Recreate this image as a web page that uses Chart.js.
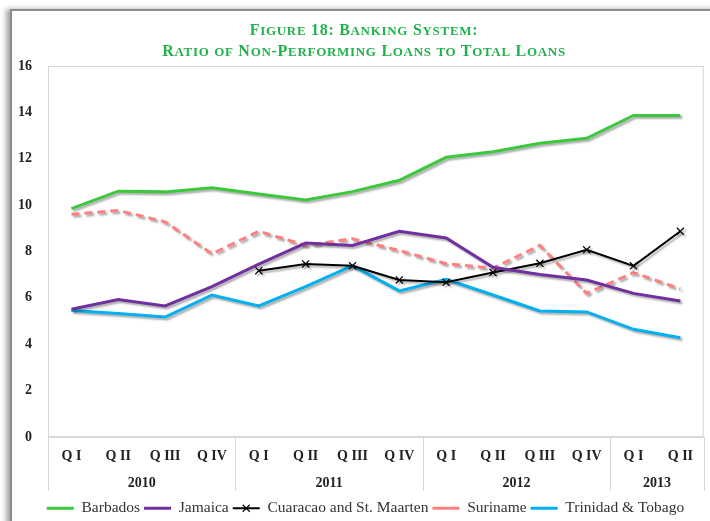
<!DOCTYPE html>
<html>
<head>
<meta charset="utf-8">
<script src="https://cdn.jsdelivr.net/npm/chart.js@4/dist/chart.umd.min.js"></script>
<style>
  html, body { margin: 0; padding: 0; background: #fff; }
  #wrap { position: relative; width: 710px; height: 521px; overflow: hidden; }
  #frame { position: absolute; left: 10px; top: 9px; width: 720px; height: 540px;
           border-top: 2px solid #8c8c8c; border-left: 2px solid #8c8c8c;
           box-shadow: -4px 0 5px rgba(0,0,0,0.35); background: #fff; }
  canvas { position: absolute; left: 0; top: 0; }
  #title { position: absolute; left: 0; top: 20px; width: 728px; text-align: center;
           font-family: 'Liberation Serif', 'Times New Roman', serif; font-size: 16px; font-weight: bold;
           line-height: 19.5px; color: #22b14c; z-index: 2; letter-spacing: 0.7px; white-space: nowrap; }
  #title .sc { font-size: 13px; text-transform: uppercase; }
</style>
</head>
<body>
<div id="wrap">
  <div id="frame"></div>
  <canvas id="c" width="710" height="521"></canvas>
  <div id="title"></div>
</div>
<script>
const titleLines = ['Figure 18: Banking System:', 'Ratio of Non-Performing Loans to Total Loans'];
const quarters = ['Q I','Q II','Q III','Q IV','Q I','Q II','Q III','Q IV','Q I','Q II','Q III','Q IV','Q I','Q II'];
const years = ['2010','2011','2012','2013'];
const yearCounts = [4, 4, 4, 2];
const yTicks = [0, 2, 4, 6, 8, 10, 12, 14, 16];

const barbados = [9.85, 10.6, 10.57, 10.75, 10.48, 10.22, 10.58, 11.07, 12.06, 12.3, 12.67, 12.88, 13.87, 13.87];
const jamaica  = [5.51, 5.93, 5.65, 6.48, 7.45, 8.36, 8.26, 8.87, 8.58, 7.32, 7.01, 6.77, 6.19, 5.86];
const curacao  = [null, null, null, null, 7.17, 7.46, 7.38, 6.77, 6.67, 7.09, 7.49, 8.07, 7.38, 8.87];
const suriname = [9.6, 9.77, 9.28, 7.9, 8.87, 8.26, 8.55, 8.04, 7.47, 7.28, 8.26, 6.19, 7.09, 6.38];
const trinidad = [5.45, 5.32, 5.17, 6.12, 5.65, 6.48, 7.39, 6.3, 6.8, 6.12, 5.43, 5.39, 4.64, 4.28];

// small-caps title built as real text
(function buildTitle() {
  const t = document.getElementById('title');
  titleLines.forEach(line => {
    const div = document.createElement('div');
    let buf = '', small = null;
    const flush = () => {
      if (!buf) return;
      if (small) { const s = document.createElement('span'); s.className = 'sc'; s.textContent = buf; div.appendChild(s); }
      else div.appendChild(document.createTextNode(buf));
      buf = '';
    };
    for (const ch of line) {
      const isSmall = ch !== ch.toUpperCase();
      if (small !== null && isSmall !== small) flush();
      small = isSmall; buf += ch;
    }
    flush();
    t.appendChild(div);
  });
})();

// year group centres and boundaries (in category index units)
const yearCenters = [];
const yearBounds = [-0.5];
let acc = 0;
yearCounts.forEach(n => { yearCenters.push(acc + (n - 1) / 2); acc += n; yearBounds.push(acc - 0.5); });

const FONT = "'Liberation Serif', 'Times New Roman', serif";
const LEGEND_SHIFT = 11;

const decor = {
  id: 'decor',
  afterLayout(chart) {
    const lg = chart.legend;
    if (!lg) return;
    lg.left += LEGEND_SHIFT;
    lg.right += LEGEND_SHIFT;
    (lg.legendHitBoxes || []).forEach(h => { h.left += LEGEND_SHIFT; });
  },
  beforeDatasetsDraw(chart) {
    const ctx = chart.ctx, a = chart.chartArea;
    ctx.save();
    ctx.strokeStyle = '#d6d6d6';
    ctx.lineWidth = 1;
    ctx.strokeRect(a.left + 0.5, a.top + 0.5, a.right - a.left - 1, a.bottom - a.top);
    ctx.restore();
    ctx.save();
    ctx.shadowColor = 'rgba(0,0,0,0.33)';
    ctx.shadowOffsetX = 2;
    ctx.shadowOffsetY = 2;
    ctx.shadowBlur = 2;
  },
  afterDatasetsDraw(chart) {
    chart.ctx.restore();
  },
  afterDraw(chart) {
    const ctx = chart.ctx, a = chart.chartArea, xs = chart.scales.x;
    ctx.save();
    ctx.strokeStyle = '#d6d6d6';
    ctx.lineWidth = 1;
    yearBounds.forEach(b => {
      const px = Math.round(xs.getPixelForValue(b)) + 0.5;
      ctx.beginPath();
      ctx.moveTo(px, a.bottom);
      ctx.lineTo(px, a.bottom + 54);
      ctx.stroke();
    });
    // X marker on Curacao legend line
    const hb = chart.legend.legendHitBoxes[2];
    if (hb) {
      const bw = chart.legend.options.labels.boxWidth;
      const cx = hb.left + bw / 2, cy = hb.top + hb.height / 2;
      ctx.strokeStyle = '#000';
      ctx.lineWidth = 1.1;
      const r = 3.5;
      ctx.beginPath();
      ctx.moveTo(cx - r, cy - r); ctx.lineTo(cx + r, cy + r);
      ctx.moveTo(cx - r, cy + r); ctx.lineTo(cx + r, cy - r);
      ctx.stroke();
    }
    ctx.restore();
  }
};

new Chart(document.getElementById('c'), {
  type: 'line',
  data: {
    labels: quarters,
    datasets: [
      { label: 'Barbados', data: barbados, borderColor: '#3cc83c', backgroundColor: '#3cc83c', borderWidth: 3, pointRadius: 0, tension: 0 },
      { label: 'Jamaica', data: jamaica, borderColor: '#7030a0', backgroundColor: '#7030a0', borderWidth: 3, pointRadius: 0, tension: 0 },
      { label: 'Cuaracao and St. Maarten', data: curacao, borderColor: '#000000', backgroundColor: '#000000', borderWidth: 2, pointStyle: 'crossRot', pointRadius: 5, pointBorderWidth: 1.2, pointBorderColor: '#000', tension: 0 },
      { label: 'Suriname', data: suriname, borderColor: '#ff8080', backgroundColor: '#ff8080', borderWidth: 3, borderDash: [8, 5], pointRadius: 0, tension: 0 },
      { label: 'Trinidad & Tobago', data: trinidad, borderColor: '#00b0f0', backgroundColor: '#00b0f0', borderWidth: 3, pointRadius: 0, tension: 0 }
    ]
  },
  options: {
    responsive: false,
    animation: false,
    layout: { padding: { left: 2, right: 3, top: 66, bottom: -5 } },
    plugins: {
      tooltip: { enabled: false },
      title: { display: false },
      legend: {
        position: 'bottom',
        labels: {
          boxWidth: 27,
          boxHeight: 0,
          padding: 4,
          color: '#333',
          font: { family: FONT, size: 15.5 }
        }
      }
    },
    scales: {
      x: {
        type: 'category',
        offset: true,
        weight: 0,
        grid: { display: false, drawTicks: false },
        border: { display: true, color: '#d6d6d6' },
        ticks: { color: '#222', font: { family: FONT, size: 14, weight: 'bold' }, padding: 11.5, maxRotation: 0, autoSkip: false }
      },
      x2: {
        type: 'linear',
        position: 'bottom',
        weight: 1,
        min: -0.5,
        max: quarters.length - 0.5,
        grid: { display: false, drawTicks: false },
        border: { display: false },
        afterBuildTicks: (scale) => { scale.ticks = yearCenters.map(v => ({ value: v })); },
        afterFit: (scale) => { scale.height += 7; },
        ticks: {
          color: '#222',
          font: { family: FONT, size: 14, weight: 'bold' },
          padding: -2,
          maxRotation: 0,
          autoSkip: false,
          callback: (v) => { const i = yearCenters.indexOf(v); return i >= 0 ? years[i] : ''; }
        }
      },
      y: {
        min: 0,
        max: 16,
        afterBuildTicks: (scale) => { scale.ticks = yTicks.map(v => ({ value: v })); },
        grid: { display: false, drawTicks: false },
        border: { display: true, color: '#d6d6d6' },
        ticks: { color: '#222', font: { family: FONT, size: 14, weight: 'bold' }, padding: 16 }
      }
    }
  },
  plugins: [decor]
});
</script>
</body>
</html>
